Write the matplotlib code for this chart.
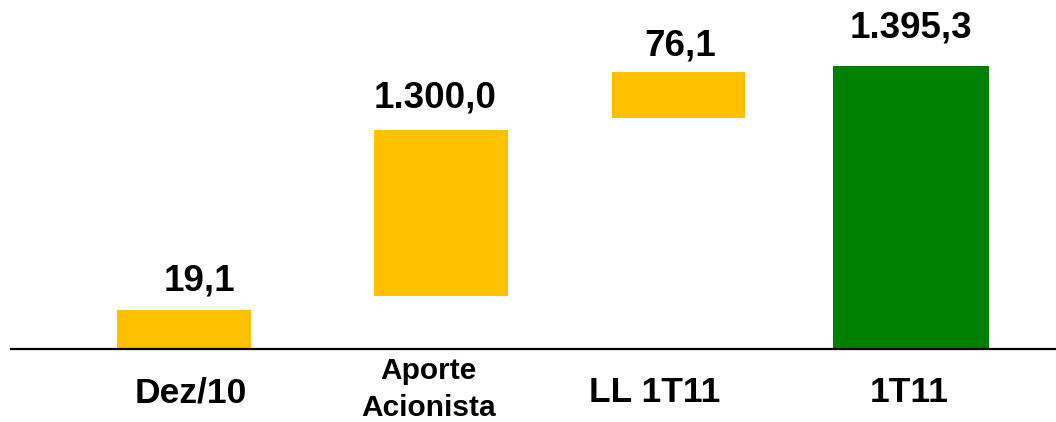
import matplotlib
matplotlib.use("Agg")
import matplotlib.pyplot as plt

plt.rcParams['font.family'] = ['Liberation Sans', 'DejaVu Sans']

# waterfall chart (the original is not drawn to scale, so bar extents are
# read off the picture separately from the printed values)
categories = ['Dez/10', 'Aporte\nAcionista', 'LL 1T11', '1T11']
value_labels = ['19,1', '1.300,0', '76,1', '1.395,3']
bar_bottom = [0, 261, 1139, 0]
bar_top = [192, 1080, 1366, 1395.3]

# layout / style
bar_pos = [0, 1.062, 2.043, 3.004]
widths = [0.55, 0.55, 0.55, 0.645]
colors = ['#FFC000', '#FFC000', '#FFC000', '#008000']
val_dx = [11, -4, 1.5, 0]       # points
val_dy = [14, 16, 11.5, 20.5]   # points
cat_dx = [5, -9, -17, -1.5]     # points

fig = plt.figure(figsize=(10.56, 4.22), dpi=100)
ax = fig.add_axes([11 / 1056, 73 / 422, 1045 / 1056, 349 / 422])

heights = [t - b for t, b in zip(bar_top, bar_bottom)]
ax.bar(bar_pos, heights, bottom=bar_bottom, width=widths, color=colors, zorder=2)

for i, (xi, top, lab) in enumerate(zip(bar_pos, bar_top, value_labels)):
    ax.annotate(lab, (xi, top), xytext=(val_dx[i], val_dy[i]),
                textcoords='offset points', ha='center', va='baseline',
                fontsize=26.5, fontweight='bold')

for i, (xi, cat) in enumerate(zip(bar_pos, categories)):
    if '\n' in cat:
        ax.annotate(cat, (xi, 0), xytext=(cat_dx[i], -29), textcoords='offset points',
                    ha='center', va='center', fontsize=21.5, fontweight='bold',
                    linespacing=1.4)
    else:
        ax.annotate(cat, (xi, 0), xytext=(cat_dx[i], -38.5), textcoords='offset points',
                    ha='center', va='baseline', fontsize=25.5, fontweight='bold')

ax.set_xlim(-0.715, 3.603)
ax.set_ylim(0, 1720)
for side in ['top', 'right', 'left']:
    ax.spines[side].set_visible(False)
ax.spines['bottom'].set_linewidth(1.6)
ax.spines['bottom'].set_zorder(3)
ax.set_xticks([])
ax.set_yticks([])

fig.savefig('out.png', dpi=100)
